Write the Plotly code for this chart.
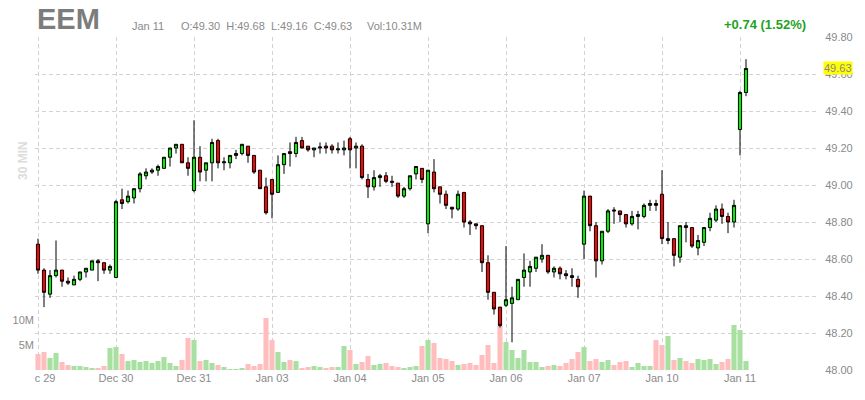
import plotly.graph_objects as go

# EEM 30 min bars, Dec 29 -> Jan 11 (13 bars per session, 2 on the last one)
days = ["Dec 29", "Dec 30", "Dec 31", "Jan 03", "Jan 04", "Jan 05", "Jan 06", "Jan 07", "Jan 10", "Jan 11"]
bars_per_day = 13

opens = [48.68, 48.54, 48.41, 48.51, 48.54, 48.48, 48.46, 48.49, 48.53, 48.54, 48.59, 48.58, 48.54,
         48.50, 48.92, 48.91, 48.93, 48.98, 49.05, 49.07, 49.08, 49.09, 49.15, 49.20, 49.22, 49.12,
         48.97, 49.15, 49.08, 49.12, 49.24, 49.12, 49.12, 49.16, 49.17, 49.21, 49.16, 49.08, 48.99,
         49.03, 48.96, 49.11, 49.18, 49.17, 49.24, 49.21, 49.19, 49.20, 49.21, 49.21, 49.19, 49.19,
         49.25, 49.20, 49.21, 49.03, 48.99, 49.04, 49.05, 49.02, 49.01, 48.94, 48.98, 49.06, 49.09,
         48.79, 49.07, 48.99, 48.95, 48.88, 48.87, 48.96, 48.80, 48.79, 48.78, 48.58, 48.42, 48.34,
         48.35, 48.36, 48.38, 48.50, 48.53, 48.55, 48.60, 48.62, 48.53, 48.55, 48.52, 48.51, 48.49,
         48.68, 48.94, 48.78, 48.59, 48.75, 48.865, 48.86, 48.84, 48.79, 48.83, 48.83, 48.89, 48.90,
         48.95, 48.70, 48.71, 48.61, 48.78, 48.77, 48.66, 48.69, 48.77, 48.81, 48.87, 48.83, 48.80,
         49.30, 49.50]
highs = [48.71, 48.55, 48.54, 48.70, 48.54, 48.50, 48.51, 48.53, 48.55, 48.59, 48.60, 48.58, 48.57,
         48.92, 48.98, 48.97, 48.98, 49.07, 49.09, 49.09, 49.11, 49.15, 49.20, 49.22, 49.22, 49.15,
         49.35, 49.21, 49.12, 49.25, 49.25, 49.15, 49.16, 49.19, 49.22, 49.21, 49.16, 49.08, 49.04,
         49.03, 49.16, 49.17, 49.23, 49.26, 49.26, 49.21, 49.20, 49.23, 49.23, 49.22, 49.23, 49.24,
         49.26, 49.23, 49.22, 49.06, 49.08, 49.06, 49.07, 49.05, 49.01, 48.99, 49.05, 49.10, 49.09,
         49.08, 49.14, 48.99, 48.97, 48.88, 48.97, 48.96, 48.81, 48.79, 48.78, 48.62, 48.42, 48.34,
         48.67, 48.45, 48.49, 48.63, 48.59, 48.61, 48.68, 48.62, 48.56, 48.56, 48.54, 48.55, 48.51,
         48.97, 48.94, 48.80, 48.75, 48.87, 48.88, 48.86, 48.84, 48.86, 48.86, 48.90, 48.92, 48.92,
         49.08, 48.80, 48.71, 48.78, 48.80, 48.77, 48.73, 48.77, 48.85, 48.89, 48.90, 48.85, 48.92,
         49.51, 49.68]
lows = [48.52, 48.34, 48.39, 48.50, 48.45, 48.46, 48.46, 48.48, 48.50, 48.54, 48.48, 48.52, 48.52,
        48.50, 48.87, 48.90, 48.90, 48.96, 49.03, 49.06, 49.05, 49.09, 49.10, 49.17, 49.12, 49.05,
        48.96, 49.02, 49.02, 49.02, 49.09, 49.08, 49.09, 49.14, 49.16, 49.12, 49.06, 48.98, 48.84,
        48.82, 48.96, 49.06, 49.10, 49.15, 49.20, 49.18, 49.15, 49.17, 49.17, 49.17, 49.17, 49.16,
        49.09, 49.09, 49.03, 48.93, 48.97, 48.99, 49.01, 48.99, 48.93, 48.93, 48.97, 49.03, 49.01,
        48.74, 48.96, 48.90, 48.87, 48.82, 48.86, 48.77, 48.73, 48.76, 48.53, 48.38, 48.30, 48.23,
        48.34, 48.15, 48.38, 48.45, 48.45, 48.53, 48.58, 48.52, 48.50, 48.49, 48.49, 48.45, 48.39,
        48.60, 48.75, 48.50, 48.57, 48.74, 48.79, 48.80, 48.77, 48.78, 48.76, 48.82, 48.86, 48.86,
        48.68, 48.68, 48.56, 48.58, 48.69, 48.66, 48.62, 48.67, 48.75, 48.80, 48.79, 48.74, 48.77,
        49.16, 49.48]
closes = [48.54, 48.42, 48.51, 48.54, 48.48, 48.47, 48.49, 48.53, 48.55, 48.59, 48.58, 48.54, 48.56,
          48.91, 48.90, 48.94, 48.98, 49.06, 49.07, 49.08, 49.10, 49.15, 49.20, 49.22, 49.12, 49.09,
          49.15, 49.07, 49.12, 49.23, 49.12, 49.125, 49.16, 49.17, 49.22, 49.16, 49.07, 48.98, 48.85,
          48.95, 49.11, 49.17, 49.17, 49.23, 49.20, 49.19, 49.20, 49.205, 49.20, 49.19, 49.195, 49.20,
          49.19, 49.21, 49.04, 48.99, 49.04, 49.05, 49.02, 49.015, 48.94, 48.98, 49.05, 49.10, 49.03,
          49.08, 48.98, 48.95, 48.89, 48.87, 48.95, 48.80, 48.79, 48.78, 48.58, 48.42, 48.33, 48.24,
          48.38, 48.39, 48.49, 48.54, 48.56, 48.61, 48.62, 48.53, 48.55, 48.52, 48.51, 48.50, 48.45,
          48.94, 48.78, 48.59, 48.75, 48.86, 48.86, 48.84, 48.79, 48.83, 48.84, 48.89, 48.90, 48.89,
          48.71, 48.71, 48.62, 48.78, 48.77, 48.67, 48.70, 48.77, 48.82, 48.87, 48.83, 48.80, 48.89,
          49.50, 49.63]
# volume in millions
volume = [3.2, 3.6, 2.4, 3.4, 1.6, 1.0, 0.8, 0.8, 0.6, 0.4, 0.4, 0.8, 4.4,
          4.6, 3.2, 1.8, 2.0, 1.6, 1.8, 1.4, 1.8, 2.6, 1.4, 0.8, 2.0, 6.4,
          6.0, 1.8, 2.0, 1.4, 1.0, 0.6, 0.2, 0.2, 0.4, 1.2, 0.8, 1.2, 10.4,
          6.0, 3.6, 1.6, 2.0, 1.8, 0.4, 0.6, 0.8, 0.6, 0.4, 0.6, 0.6, 4.8,
          4.0, 1.2, 1.6, 2.8, 1.0, 1.2, 1.4, 0.8, 0.6, 0.4, 0.6, 0.8, 4.8,
          6.0, 5.4, 2.4, 2.2, 1.8, 1.0, 1.2, 1.4, 1.0, 3.0, 5.0, 1.4, 8.8,
          5.6, 4.0, 2.4, 4.0, 1.6, 1.6, 0.6, 0.8, 1.0, 0.8, 1.4, 2.2, 3.6,
          4.6, 1.8, 2.2, 1.6, 2.0, 1.0, 1.6, 1.8, 0.6, 1.4, 0.8, 0.8, 6.0,
          5.0, 6.8, 2.0, 2.4, 1.8, 1.4, 2.2, 2.0, 2.2, 1.2, 1.6, 2.2, 9.0,
          8.0, 1.8]

price_ticks = [48.0, 48.2, 48.4, 48.6, 48.8, 49.0, 49.2, 49.4, 49.6, 49.8]
last_price = 49.63

x = list(range(len(closes)))
vol_colors = ['#a8e0a2' if c > o else '#ffbdbd' for o, c in zip(opens, closes)]
GRAY = '#8a8a8a'
FONT = 'Liberation Sans, Arial, sans-serif'

# pixel helpers for the plot area (l=35, r=47, t=37, b=30)
W, H, L, T = 865 - 35 - 47, 400 - 37 - 30, 35, 37
def px(p):
    return (p - L) / W
def py(p):
    return (T + H - p) / H

fig = go.Figure()
fig.add_trace(go.Bar(x=x, y=volume, marker=dict(color=vol_colors, line=dict(width=0)),
                     yaxis='y', hoverinfo='skip'))
fig.add_trace(go.Candlestick(x=x, open=opens, high=highs, low=lows, close=closes, yaxis='y2',
                             whiskerwidth=0,
                             increasing=dict(line=dict(color='black', width=1), fillcolor='#00ee00'),
                             decreasing=dict(line=dict(color='black', width=1), fillcolor='#ff0000')))

grid = dict(showgrid=True, gridcolor='#d2d2d2', griddash='4px,3px', gridwidth=1)
fig.update_layout(
    width=865, height=400, margin=dict(l=35, r=47, t=37, b=30),
    paper_bgcolor='white', plot_bgcolor='white', showlegend=False,
    font=dict(family=FONT, size=11, color=GRAY),
    bargap=0.15, boxgap=0.25,
    xaxis=dict(range=[-0.5, 130], tickvals=[i * bars_per_day for i in range(len(days))], ticktext=days,
               zeroline=False, showline=False, ticks='', rangeslider=dict(visible=False),
               tickfont=dict(size=11, color=GRAY), **grid),
    yaxis=dict(range=[0, 66.6], side='left', tickvals=[5, 10], ticktext=['5M', '10M'],
               showgrid=False, zeroline=False, showline=False, ticks='',
               tickfont=dict(size=11, color=GRAY)),
    yaxis2=dict(range=[48.0, 49.8], overlaying='y', side='right', tickvals=price_ticks,
                tickformat='.2f', zeroline=False, showline=False, ticks='outside', ticklen=4,
                tickcolor='rgba(0,0,0,0)', tickfont=dict(size=11, color=GRAY), **grid),
)

# hide the part of the first date label that falls left of the chart
fig.add_shape(type='rect', xref='paper', yref='paper', x0=px(0), x1=px(L), y0=py(400), y1=py(371),
              fillcolor='white', line=dict(width=0), layer='above')

ann = [
    dict(text='<b>EEM</b>', x=px(35), y=py(19), xanchor='left', yanchor='middle',
         font=dict(size=29, color='#7c7c7c')),
    dict(text='Jan 11', x=px(130), y=py(26), xanchor='left', yanchor='middle',
         font=dict(size=11, color=GRAY)),
    dict(text='O:49.30  H:49.68  L:49.16  C:49.63', x=px(179), y=py(26), xanchor='left', yanchor='middle',
         font=dict(size=11, color=GRAY)),
    dict(text='Vol:10.31M', x=px(365), y=py(26), xanchor='left', yanchor='middle',
         font=dict(size=11, color=GRAY)),
    dict(text='<b>+0.74 (1.52%)</b>', x=px(808), y=py(25), xanchor='right', yanchor='middle',
         font=dict(size=13, color='#1fa31f')),
    dict(text='<b>30 MIN</b>', x=px(23), y=py(161), xanchor='center', yanchor='middle', textangle=-90,
         font=dict(size=12, color='#dcdcdc')),
]
for a in ann:
    fig.add_annotation(xref='paper', yref='paper', showarrow=False, **a)

fig.add_annotation(xref='paper', yref='y2', x=1, y=last_price, xshift=5, xanchor='left', yanchor='middle',
                   text=f'{last_price:.2f}', showarrow=False, bgcolor='#ffff00', borderpad=0,
                   font=dict(size=11, color=GRAY))

fig.write_html("out.html", config={'displayModeBar': False},
               post_script="document.body.style.margin='0px';")
